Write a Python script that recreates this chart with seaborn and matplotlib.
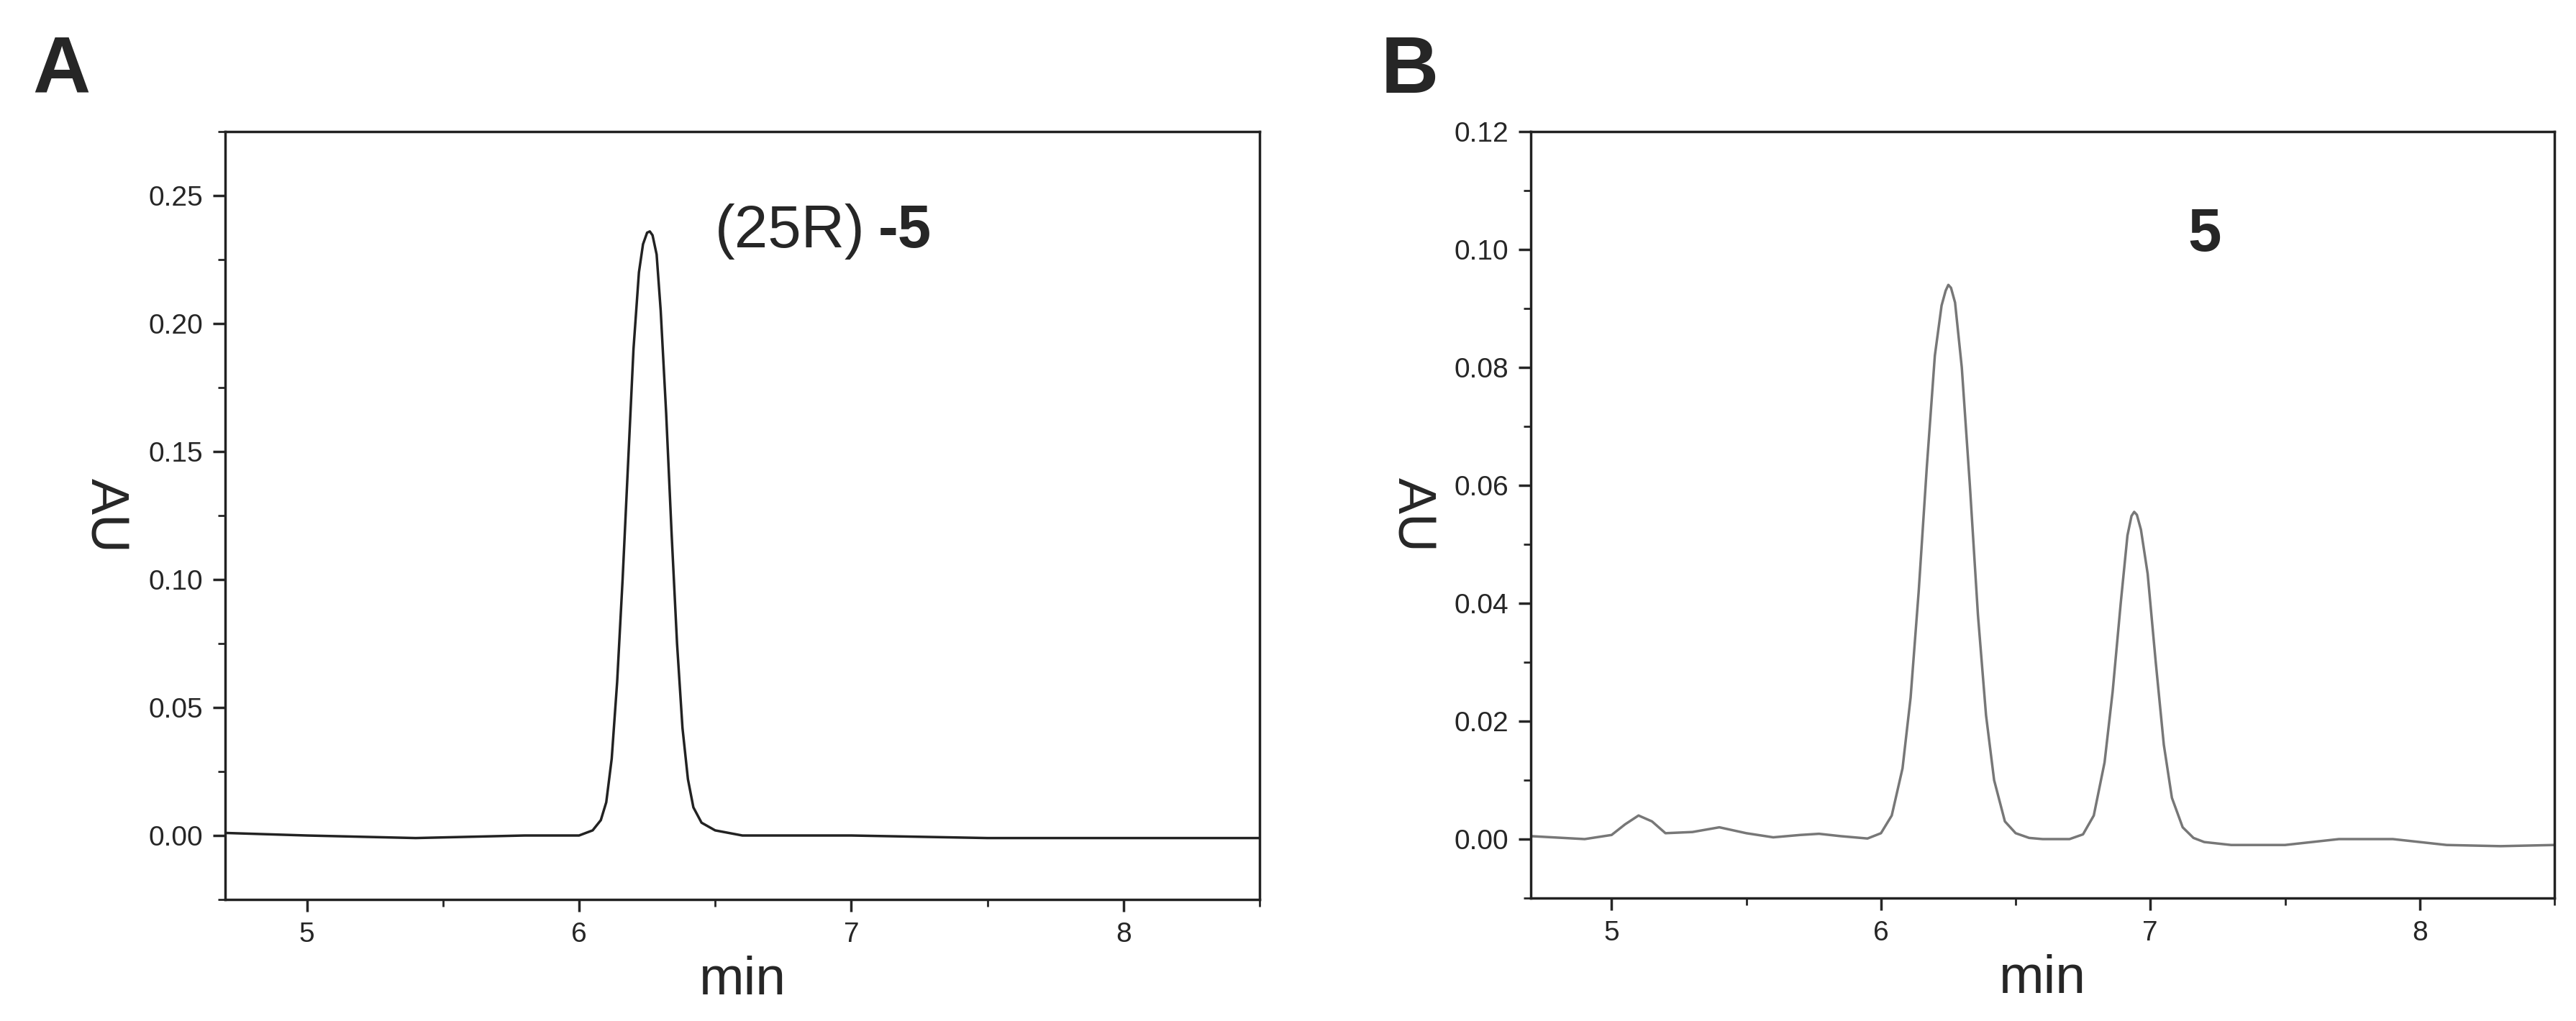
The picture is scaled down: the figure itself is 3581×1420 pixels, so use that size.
import matplotlib
matplotlib.use("Agg")
import matplotlib.pyplot as plt
import seaborn as sns
from matplotlib.ticker import MultipleLocator

# panel A: (25R)-5
time_a = [4.7, 5.0, 5.4, 5.8, 6.0, 6.05, 6.08, 6.10, 6.12, 6.14, 6.16, 6.18, 6.20, 6.22,
          6.235, 6.25, 6.26, 6.27, 6.285, 6.30, 6.32, 6.34, 6.36, 6.38, 6.40, 6.42, 6.45,
          6.5, 6.6, 7.0, 7.5, 8.0, 8.5]
au_a = [0.001, 0.000, -0.001, 0.000, 0.000, 0.002, 0.006, 0.013, 0.030, 0.060, 0.100,
        0.145, 0.190, 0.220, 0.231, 0.2355, 0.236, 0.2345, 0.227, 0.205, 0.165, 0.118,
        0.075, 0.042, 0.022, 0.011, 0.005, 0.002, 0.000, 0.000, -0.001, -0.001, -0.001]

# panel B: 5
time_b = [4.7, 4.9, 5.0, 5.05, 5.1, 5.15, 5.2, 5.3, 5.4, 5.5, 5.6, 5.7, 5.77, 5.85, 5.95,
          6.0, 6.04, 6.08, 6.11, 6.14, 6.17, 6.20, 6.225, 6.24, 6.25, 6.26, 6.275, 6.30,
          6.33, 6.36, 6.39, 6.42, 6.46, 6.5, 6.55, 6.6, 6.7, 6.75, 6.79, 6.83, 6.86,
          6.89, 6.915, 6.93, 6.94, 6.95, 6.965, 6.99, 7.02, 7.05, 7.08, 7.12, 7.16, 7.2,
          7.3, 7.5, 7.7, 7.9, 8.1, 8.3, 8.5]
au_b = [0.0005, 0.000, 0.0007, 0.0025, 0.004, 0.003, 0.001, 0.0012, 0.002, 0.001, 0.0003,
        0.0007, 0.0009, 0.0005, 0.0001, 0.001, 0.004, 0.012, 0.024, 0.042, 0.063, 0.082,
        0.0905, 0.093, 0.094, 0.0935, 0.091, 0.080, 0.060, 0.038, 0.021, 0.010, 0.003,
        0.001, 0.0002, 0.000, 0.000, 0.0008, 0.004, 0.013, 0.025, 0.040, 0.0515, 0.0548,
        0.0555, 0.055, 0.0525, 0.045, 0.030, 0.016, 0.007, 0.002, 0.0002, -0.0005,
        -0.001, -0.001, 0.000, 0.000, -0.001, -0.0012, -0.001]

sns.set_style("ticks")
plt.rcParams['font.family'] = ['Liberation Sans', 'DejaVu Sans']

fig = plt.figure(figsize=(35.81, 14.2), dpi=100)
ax_a = fig.add_axes([313 / 3581, 1 - 1251 / 1420, 1438 / 3581, 1068 / 1420])
ax_b = fig.add_axes([2128 / 3581, 1 - 1249 / 1420, 1423 / 3581, 1066 / 1420])

sns.lineplot(x=time_a, y=au_a, ax=ax_a, color="#222222", linewidth=2.5)
sns.lineplot(x=time_b, y=au_b, ax=ax_b, color="#777777", linewidth=2.5)

setups = [(ax_a, (-0.025, 0.275), 0.05, 0.025),
          (ax_b, (-0.01, 0.12), 0.02, 0.01)]
for ax, ylim, major, minor in setups:
    ax.set_xlim(4.7, 8.5)
    ax.set_ylim(*ylim)
    ax.xaxis.set_major_locator(MultipleLocator(1))
    ax.xaxis.set_minor_locator(MultipleLocator(0.5))
    ax.yaxis.set_major_locator(MultipleLocator(major))
    ax.yaxis.set_minor_locator(MultipleLocator(minor))
    ax.yaxis.set_major_formatter(matplotlib.ticker.FormatStrFormatter("%.2f"))
    ax.tick_params(which="major", length=12, width=2.5, labelsize=28, direction="out", pad=10)
    ax.tick_params(which="minor", length=7, width=2, direction="out")
    for s in ax.spines.values():
        s.set_linewidth(2.5)
        s.set_color("#222222")
    ax.set_xlabel("min", fontsize=54, labelpad=8)
    ax.set_ylabel("AU", fontsize=54, rotation=-90)
    ax.yaxis.set_label_coords(-0.14, 0.5)

ax_a.text(6.5, 0.236, "(25R)", fontsize=60, va="center", ha="left")
ax_a.text(7.1, 0.236, "-5", fontsize=60, fontweight="bold", va="center", ha="left")
ax_b.text(7.2, 0.1025, "5", fontsize=60, fontweight="bold", va="center", ha="center")

fig.text(45 / 3581, 1 - 100 / 1420, "A", fontsize=80, fontweight="bold", va="center")
fig.text(1920 / 3581, 1 - 100 / 1420, "B", fontsize=80, fontweight="bold", va="center")

fig.savefig("out.png", dpi=100)
